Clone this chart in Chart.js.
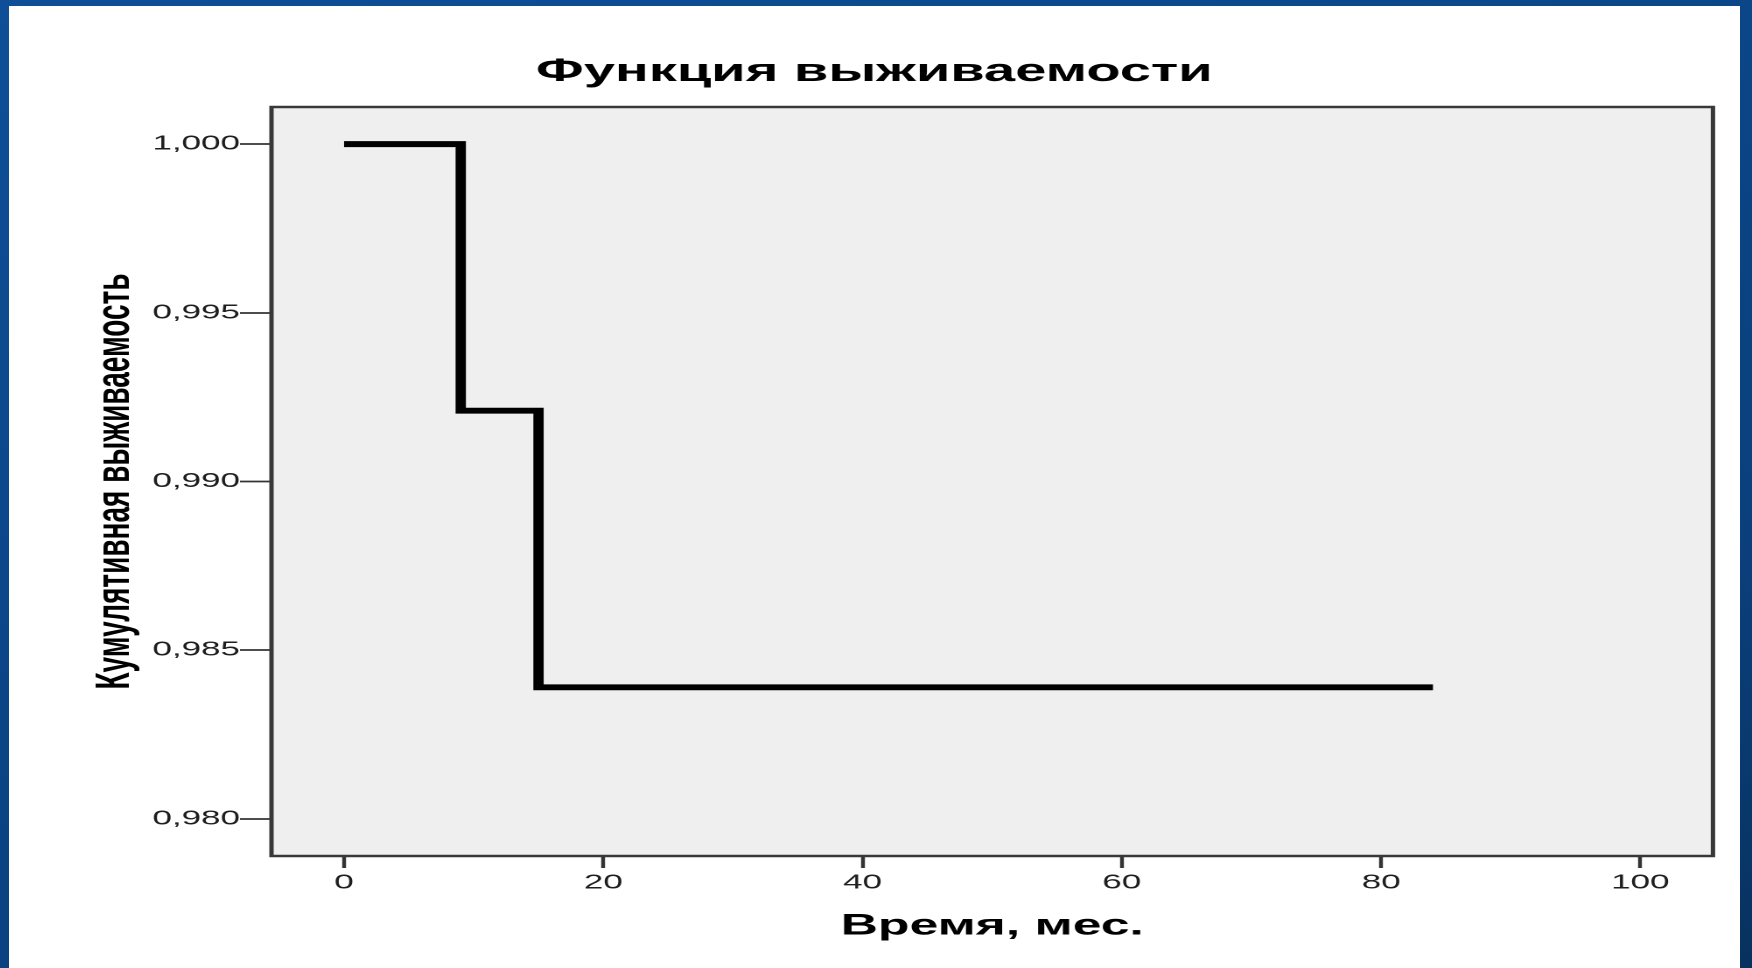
<!DOCTYPE html>
<html>
<head>
<meta charset="utf-8">
<script src="https://cdn.jsdelivr.net/npm/chart.js@4/dist/chart.umd.min.js"></script>
<style>
  html, body { margin: 0; padding: 0; }
  body {
    width: 1752px; height: 968px; overflow: hidden; position: relative;
    background: linear-gradient(160deg, #0e4f98 0%, #0b4688 40%, #0a3f7b 75%, #07325f 100%);
  }
  #c {
    position: absolute; left: 9px; top: 6px;
    width: 989px; height: 962px;
    transform: scaleX(1.75); transform-origin: 0 0;
    background: #ffffff;
  }
</style>
</head>
<body>
<canvas id="c" width="989" height="962"></canvas>
<script>
// ---- data ----
const times    = [0, 9, 15, 84];                 // месяцы
const survival = [1.000, 0.9921, 0.9839, 0.9839]; // кумулятивная выживаемость
const xTicks   = [0, 20, 40, 60, 80, 100];
const yTicks   = [0.980, 0.985, 0.990, 0.995, 1.000];
const titleText  = 'Функция выживаемости';
const xTitleText = 'Время, мес.';
const yTitleText = 'Кумулятивная выживаемость';

const FONT = "'Liberation Sans', Arial, sans-serif";

const plotBox = {
  id: 'plotBox',
  beforeDatasetsDraw(chart) {
    const a = chart.chartArea, ctx = chart.ctx;
    ctx.save();
    ctx.fillStyle = '#efefef';
    ctx.fillRect(a.left, a.top, a.right - a.left, a.bottom - a.top);
    ctx.restore();
  },
  afterDraw(chart) {
    const a = chart.chartArea, ctx = chart.ctx;
    ctx.save();
    ctx.strokeStyle = '#383838';
    ctx.lineWidth = 2.5;
    ctx.strokeRect(a.left, a.top, a.right - a.left, a.bottom - a.top);
    ctx.restore();
  }
};

new Chart(document.getElementById('c'), {
  type: 'line',
  data: {
    datasets: [{
      data: times.map((t, i) => ({ x: t, y: survival[i] })),
      stepped: 'before',
      borderColor: '#000000',
      borderWidth: 5.9,
      borderJoinStyle: 'miter',
      borderCapStyle: 'butt',
      pointRadius: 0,
      fill: false
    }]
  },
  options: {
    responsive: false,
    devicePixelRatio: 2,
    animation: false,
    layout: { padding: 0 },
    plugins: {
      legend: { display: false },
      tooltip: { enabled: false },
      title: {
        display: true,
        text: titleText,
        color: '#000',
        font: { family: FONT, size: 32, weight: 'bold', lineHeight: 1.2 },
        padding: { top: 46.8, bottom: 15.8 }
      }
    },
    scales: {
      x: {
        type: 'linear',
        min: -5.6, max: 105.6,
        afterFit(s) { s.height = 112; },
        afterBuildTicks(s) { s.ticks = xTicks.map(v => ({ value: v })); },
        border: { display: false },
        grid: { drawOnChartArea: false, drawTicks: true, tickLength: 12, tickWidth: 2.2, tickColor: '#333' },
        ticks: {
          color: '#1e1e1e', padding: 3,
          font: { family: FONT, size: 20 },
          maxRotation: 0, autoSkip: false,
          callback: v => String(v)
        },
        title: {
          display: true, text: xTitleText, color: '#000',
          font: { family: FONT, size: 29.5, weight: 'bold', lineHeight: 1.2 },
          padding: { top: 0, bottom: 24 }
        }
      },
      y: {
        type: 'linear',
        min: 0.9789, max: 1.0011,
        afterFit(s) { s.width = 150; },
        afterBuildTicks(s) { s.ticks = yTicks.map(v => ({ value: v })); },
        border: { display: false },
        grid: { drawOnChartArea: false, drawTicks: true, tickLength: 18, tickWidth: 1.8, tickColor: '#333' },
        ticks: {
          color: '#1e1e1e', padding: 0,
          font: { family: FONT, size: 20 },
          autoSkip: false,
          callback: v => v.toFixed(3).replace('.', ',')
        },
        title: {
          display: true, text: yTitleText, color: '#000',
          font: { family: FONT, size: 28, weight: 'bold', lineHeight: 1.2 },
          padding: { top: 44, bottom: 0 }
        }
      },
      yRight: {
        type: 'linear',
        position: 'right',
        min: 0.9789, max: 1.0011,
        afterFit(s) { s.width = 15.3; },
        border: { display: false },
        grid: { display: false, drawTicks: false },
        ticks: { display: false }
      }
    }
  },
  plugins: [plotBox]
});
</script>
</body>
</html>
